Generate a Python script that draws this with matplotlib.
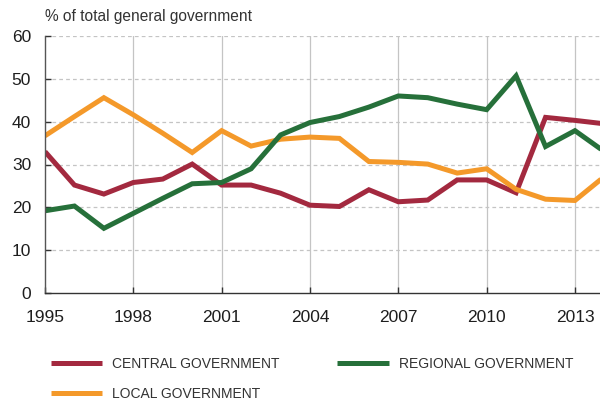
import matplotlib
matplotlib.use("Agg")
import matplotlib.pyplot as plt

years = list(range(1995, 2015))
central = [33.0, 25.2, 23.1, 25.8, 26.6, 30.1, 25.2, 25.2, 23.3, 20.5,
           20.2, 24.1, 21.3, 21.7, 26.4, 26.4, 23.4, 41.0, 40.3, 39.5]
regional = [19.2, 20.3, 15.1, 18.6, 22.1, 25.5, 25.8, 29.0, 36.9, 39.8,
            41.2, 43.4, 46.0, 45.6, 44.1, 42.8, 50.7, 34.2, 37.9, 33.0]
local = [36.7, 41.2, 45.6, 41.6, 37.3, 32.8, 37.9, 34.3, 35.9, 36.4,
         36.1, 30.7, 30.5, 30.1, 28.0, 29.0, 24.2, 21.9, 21.6, 27.2]
xticks = [1995, 1998, 2001, 2004, 2007, 2010, 2013]
yticks = [0, 10, 20, 30, 40, 50, 60]

plt.rcParams["font.family"] = ["Liberation Sans", "DejaVu Sans"]

fig = plt.figure(figsize=(6.0, 4.03), dpi=100)
ax = fig.add_axes([45 / 600, 1 - 293 / 403, 559.4 / 600, 257 / 403])

style = dict(lw=3.6, solid_joinstyle="miter", solid_capstyle="butt")
ax.plot(years, central, color="#A3293F", label="CENTRAL GOVERNMENT", **style)
ax.plot(years, local, color="#F4992A", label="LOCAL GOVERNMENT", **style)
ax.plot(years, regional, color="#26703A", label="REGIONAL GOVERNMENT", **style)

ax.set_xlim(1995, 2014)
ax.set_ylim(0, 60)
ax.set_xticks(xticks)
ax.set_yticks(yticks)

# dashed horizontal grid, solid vertical grid
for y in yticks[1:]:
    ax.axhline(y, color="#C4C4C4", lw=0.9, ls=(0, (3, 2.5)), zorder=0)
for x in xticks[1:]:
    ax.axvline(x, color="#C4C4C4", lw=0.9, zorder=0)

for s in ["top", "right"]:
    ax.spines[s].set_visible(False)
ax.spines["left"].set_color("#555555")
ax.spines["bottom"].set_color("#333333")
ax.spines["left"].set_linewidth(1.0)
ax.spines["bottom"].set_linewidth(1.0)

ax.tick_params(axis="both", direction="in", length=4, width=1, colors="#333333",
               labelsize=12.5, labelcolor="#1e1e1e")
ax.tick_params(axis="y", pad=10)
ax.tick_params(axis="x", pad=12)

fig.text(45 / 600, 1 - 17 / 403, "% of total general government", fontsize=11.2,
         color="#333333", va="center", ha="left")

leg = fig.legend(loc="upper left", bbox_to_anchor=(38 / 600, 1 - 344 / 403), ncol=2,
                 frameon=False, handlelength=3.7, columnspacing=4.2, labelspacing=1.2,
                 handletextpad=0.7, prop={"size": 10})
for t in leg.get_texts():
    t.set_color("#333333")

fig.savefig("out.png", dpi=100)
